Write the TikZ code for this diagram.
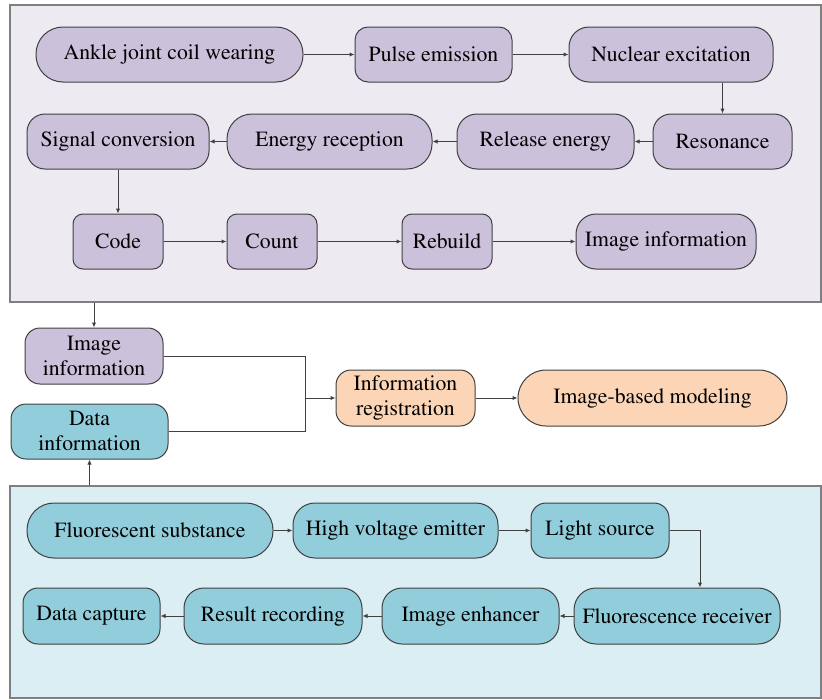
\documentclass[tikz,border=0pt]{standalone}
\usepackage[T1]{fontenc}
\renewcommand{\rmdefault}{ptm}
\usetikzlibrary{arrows.meta,calc}
\definecolor{purfill}{HTML}{CCC1DA}
\definecolor{purbg}{HTML}{EDEAF1}
\definecolor{tealfill}{HTML}{92CDDC}
\definecolor{tealbg}{HTML}{DBEEF4}
\definecolor{orfill}{HTML}{FBD5B5}
\definecolor{edge}{HTML}{404040}
\definecolor{framec}{HTML}{7F7F7F}
\tikzset{
  box/.style={draw=edge, line width=1pt, inner sep=0pt, align=center,
    font=\rmfamily\fontsize{21.7}{25}\selectfont, minimum height=55pt},
  pur/.style={box, fill=purfill},
  teal/.style={box, fill=tealfill},
  ora/.style={box, fill=orfill},
  frame/.style={draw=framec, line width=1.5pt, inner sep=0pt},
  arr/.style={draw=edge, line width=1pt, -{Latex[length=5pt,width=4.5pt]}},
  ln/.style={draw=edge, line width=1pt},
}
\begin{document}
\begin{tikzpicture}[x=1pt,y=-1pt]
\useasboundingbox (0,0) rectangle (822,699);
% frames
\node[frame, fill=purbg, minimum width=811pt, minimum height=297pt] (topframe) at (415.5,153.5) {};
\node[frame, fill=tealbg, minimum width=811pt, minimum height=212pt] (botframe) at (415.5,592) {};
% top row
\node[pur, minimum width=267pt, rounded corners=27pt] (n1) at (169.5,54.5) {Ankle joint coil wearing};
\node[pur, minimum width=157pt, rounded corners=13pt] (n2) at (433.5,54.5) {Pulse emission};
\node[pur, minimum width=204pt, rounded corners=20pt] (n3) at (671,54.5) {Nuclear excitation};
% second row
\node[pur, minimum width=139pt, rounded corners=18pt] (n4) at (722.5,141.5) {Resonance};
\node[pur, minimum width=177pt, rounded corners=20pt] (n5) at (545.5,141.5) {Release energy};
\node[pur, minimum width=205pt, rounded corners=25pt] (n6) at (329.5,141.5) {Energy reception};
\node[pur, minimum width=182pt, rounded corners=18pt] (n7) at (118,141.5) {Signal conversion};
% third row
\node[pur, minimum width=90pt, rounded corners=10pt] (n8) at (118,241.5) {Code};
\node[pur, minimum width=90pt, rounded corners=10pt] (n9) at (272,241.5) {Count};
\node[pur, minimum width=90pt, rounded corners=10pt] (n10) at (447,241.5) {Rebuild};
\node[pur, minimum width=180pt, rounded corners=20pt] (n11) at (666,241.5) {Image information};
% middle
\node[pur, minimum width=138pt, minimum height=56pt, rounded corners=15pt] (m1) at (94,356) {Image\\information};
\node[teal, minimum width=157pt, rounded corners=15pt] (m2) at (89.5,431.5) {Data\\information};
\node[ora, minimum width=139pt, minimum height=56pt, rounded corners=15pt] (m3) at (405.5,398) {Information\\registration};
\node[ora, minimum width=269pt, minimum height=56pt, rounded corners=28pt] (m4) at (652.5,398) {Image-based modeling};
% bottom
\node[teal, minimum width=246pt, rounded corners=27pt] (b1) at (150,530.5) {Fluorescent substance};
\node[teal, minimum width=205pt, rounded corners=22pt] (b2) at (395.5,530.5) {High voltage emitter};
\node[teal, minimum width=138pt, rounded corners=15pt] (b3) at (600,530.5) {Light source};
\node[teal, minimum width=206pt, minimum height=56pt, rounded corners=22pt] (b4) at (677,616) {Fluorescence receiver};
\node[teal, minimum width=177pt, minimum height=56pt, rounded corners=20pt] (b5) at (470.5,616) {Image enhancer};
\node[teal, minimum width=178pt, minimum height=56pt, rounded corners=20pt] (b6) at (273,616) {Result recording};
\node[teal, minimum width=137pt, minimum height=56pt, rounded corners=15pt] (b7) at (91.5,616) {Data capture};
% top connectors
\draw[arr] (n1) -- (n2);
\draw[arr] (n2) -- (n3);
\draw[arr] (n3.south -| n4.north) -- (n4.north);
\draw[arr] (n4) -- (n5);
\draw[arr] (n5) -- (n6);
\draw[arr] (n6) -- (n7);
\draw[arr] (n7) -- (n8);
\draw[arr] (n8) -- (n9);
\draw[arr] (n9) -- (n10);
\draw[arr] (n10) -- (n11);
% middle connectors
\draw[arr] (topframe.south -| m1.north) -- (m1.north);
\draw[arr] (botframe.north -| m2.south) -- (m2.south);
\coordinate (j) at (305,398);
\draw[ln] (m1.east) -| (j);
\draw[ln] (m2.east) -| (j);
\draw[arr] (j) -- (m3.west);
\draw[arr] (m3) -- (m4);
% bottom connectors
\draw[arr] (b1) -- (b2);
\draw[arr] (b2) -- (b3);
\coordinate (lk) at (700,530.5);
\draw[arr] (b3.east) -- (lk) -- (lk |- b4.north);
\draw[arr] (b4) -- (b5);
\draw[arr] (b5) -- (b6);
\draw[arr] (b6) -- (b7);
\end{tikzpicture}
\end{document}
